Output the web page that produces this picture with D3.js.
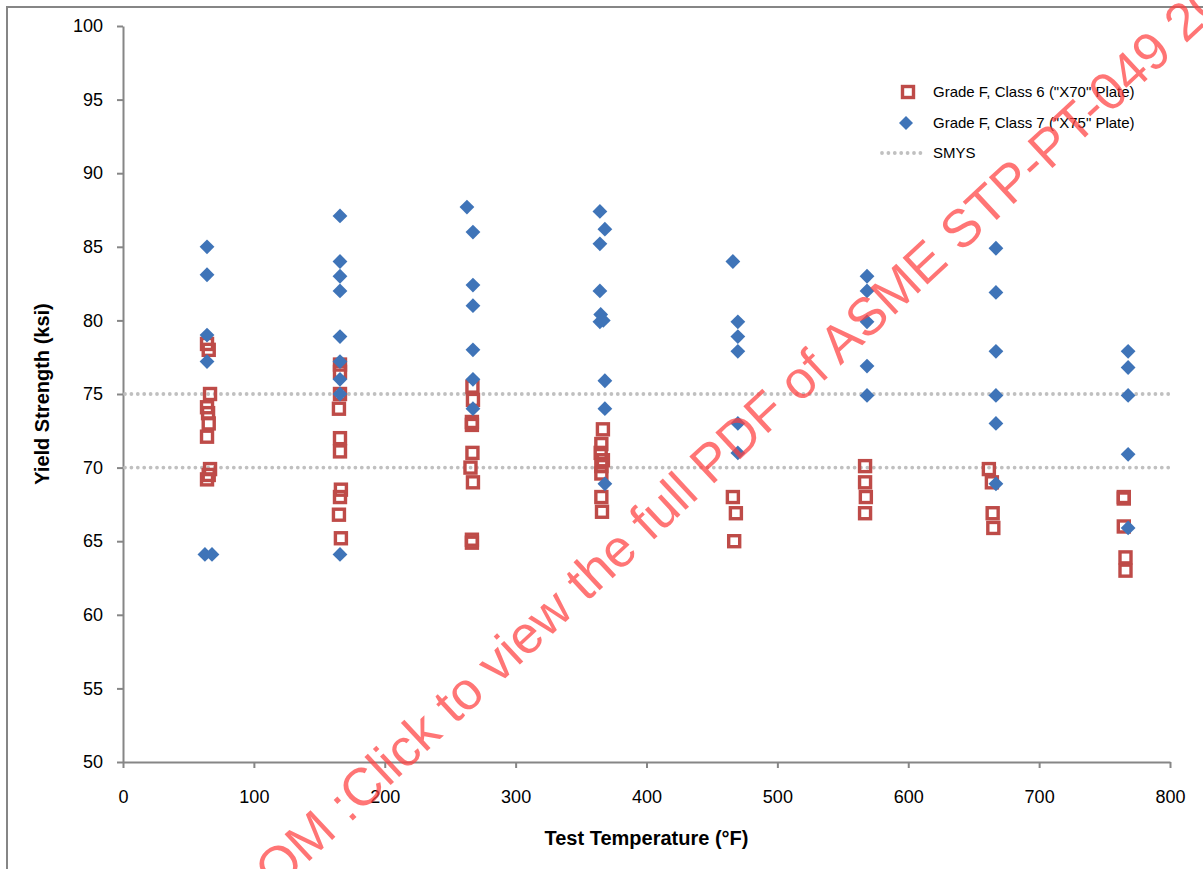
<!DOCTYPE html>
<html><head><meta charset="utf-8">
<script src="https://cdn.jsdelivr.net/npm/d3@7"></script>
<style>
html,body{margin:0;padding:0;background:#fff;}
svg{display:block;}
text{font-family:"Liberation Sans",Arial,sans-serif;}
</style></head>
<body>
<svg id="chart" width="1203" height="869"></svg>
<script>
// ---- data ----
const class6Temp  = [64.2,65.5,66.5,64.2,65,65.5,64.2,66.5,65.5,64.2,
  165.8,165.8,165.8,165,165.8,165.8,166.5,165.8,165,166.5,
  267,267.4,266.6,266.6,267,265.5,267.4,266.6,266.6,
  366.7,365.5,365,366.7,365.5,365.5,365.5,366,
  466,468.3,467,
  567,567,567.6,567,
  661.6,663.9,664.5,665,
  764.7,764.7,764.7,766,766];
const class6Yield = [78.4,78.0,75.0,74.1,73.7,73.0,72.1,69.9,69.5,69.2,
  77.0,76.5,75.0,74.0,72.0,71.1,68.5,68.0,66.8,65.2,
  75.5,74.6,73.1,72.9,71.0,70.0,69.0,65.1,64.9,
  72.6,71.6,71.0,70.5,70.1,69.6,68.0,67.0,
  68.0,66.9,65.0,
  70.1,69.0,68.0,66.9,
  69.9,69.0,66.9,65.9,
  68.0,67.9,66.0,63.9,63.0];
const class7Temp  = [64.2,64.2,64.2,64.2,62.6,68,
  165.8,165.8,165.8,165.8,165.8,165.8,165.8,165.8,165.8,
  262.8,267.4,267.4,267.4,267.4,267.4,267.4,
  364.4,368.2,364.4,364.4,365,364.4,367,368.2,368.2,368.2,
  466,469.8,469.8,469.8,469.8,469.8,
  568.5,568.5,568.5,568.5,568.5,
  667,667,667,667,667,667,
  768,768,768,768,768];
const class7Yield = [85.0,83.1,79.0,77.2,64.1,64.1,
  87.1,84.0,83.0,82.0,78.9,77.2,76.0,75.0,64.1,
  87.7,86.0,82.4,81.0,78.0,76.0,74.0,
  87.4,86.2,85.2,82.0,80.4,79.9,80.0,75.9,74.0,68.9,
  84.0,79.9,78.9,77.9,73.0,71.0,
  83.0,82.0,79.9,76.9,74.9,
  84.9,81.9,77.9,74.9,73.0,68.9,
  77.9,76.8,74.9,70.9,65.9];
const smysValues = [70, 75];
const xTicks = [0,100,200,300,400,500,600,700,800];
const yTicks = [50,55,60,65,70,75,80,85,90,95,100];
const seriesNames = ['Grade F, Class 6 ("X70" Plate)', 'Grade F, Class 7 ("X75" Plate)', 'SMYS'];
const xTitle = "Test Temperature (\u00B0F)";
const yTitle = "Yield  Strength (ksi)";
const watermark = "OM :Click to view the full PDF of ASME STP-PT-049 2012";

// ---- layout ----
const svg = d3.select("#chart");
const L = 123, R = 1170, T = 26, B = 762;
const RED = "#be4b48", BLUE = "#3f74b8", AXIS = "#868686", DOT = "#c0c0c0";

svg.append("rect").attr("x",7).attr("y",7).attr("width",1300).attr("height",1000)
  .attr("fill","#fff").attr("stroke",AXIS).attr("stroke-width",2);

const x = d3.scaleLinear().domain([0,800]).range([L,R]);
const y = d3.scaleLinear().domain([50,100]).range([B,T]);

// axes
const xAxis = svg.append("g").attr("transform",`translate(0,${B})`)
  .call(d3.axisBottom(x).tickValues(xTicks).tickSize(6).tickPadding(19).tickSizeOuter(0));
const yAxis = svg.append("g").attr("transform",`translate(${L},0)`)
  .call(d3.axisLeft(y).tickValues(yTicks).tickSize(6).tickPadding(14).tickSizeOuter(0));
[xAxis,yAxis].forEach(g=>{
  g.select(".domain").attr("stroke",AXIS).attr("stroke-width",2);
  g.selectAll(".tick line").attr("stroke",AXIS).attr("stroke-width",2);
  g.selectAll(".tick text").attr("fill","#000").style("font-size","18px")
    .style("font-family",'"Liberation Sans",Arial,sans-serif');
});
xAxis.selectAll(".tick text").attr("dy","0.9em");

// SMYS lines
svg.append("g").selectAll("line").data(smysValues).join("line")
  .attr("x1",L+2).attr("x2",R).attr("y1",d=>y(d)).attr("y2",d=>y(d))
  .attr("stroke",DOT).attr("stroke-width",3.8).attr("stroke-linecap","round")
  .attr("stroke-dasharray","0 6.4");

// markers
const diamond = (cx,cy,r)=>`M${cx},${cy-r}L${cx+r},${cy}L${cx},${cy+r}L${cx-r},${cy}Z`;
const sq = 11;
svg.append("g").selectAll("rect").data(class6Temp.map((t,i)=>[t,class6Yield[i]])).join("rect")
  .attr("x",d=>x(d[0])-sq/2).attr("y",d=>y(d[1])-sq/2).attr("width",sq).attr("height",sq)
  .attr("fill","none").attr("stroke",RED).attr("stroke-width",3.4);
svg.append("g").selectAll("path").data(class7Temp.map((t,i)=>[t,class7Yield[i]])).join("path")
  .attr("d",d=>diamond(x(d[0]),y(d[1]),7.4)).attr("fill",BLUE);

// axis titles
svg.append("text").attr("x",(L+R)/2).attr("y",845).attr("text-anchor","middle")
  .style("font-size","20px").style("font-weight","bold").text(xTitle);
svg.append("text").attr("transform",`translate(49,${(T+B)/2}) rotate(-90)`).attr("text-anchor","middle")
  .style("font-size","20px").style("font-weight","bold").text(yTitle);

// legend
const lg = svg.append("g");
const lx = 933, ly = [92,123,153];
lg.append("rect").attr("x",908-sq/2).attr("y",ly[0]-sq/2).attr("width",sq).attr("height",sq)
  .attr("fill","none").attr("stroke",RED).attr("stroke-width",3.4);
lg.append("path").attr("d",diamond(906,ly[1],7)).attr("fill",BLUE);
lg.append("line").attr("x1",882).attr("x2",925).attr("y1",ly[2]).attr("y2",ly[2])
  .attr("stroke",DOT).attr("stroke-width",3.8).attr("stroke-linecap","round").attr("stroke-dasharray","0 6.4");
lg.selectAll("text").data(seriesNames).join("text")
  .attr("x",lx).attr("y",(d,i)=>ly[i]).attr("dy","0.35em")
  .style("font-size","15px").attr("fill","#000").text(d=>d);

// watermark overlay
svg.append("text").attr("transform","translate(276,892) rotate(-43)")
  .style("font-size","53px").attr("fill","#ff4040").attr("fill-opacity",0.72)
  .text(watermark);
</script>
</body></html>
